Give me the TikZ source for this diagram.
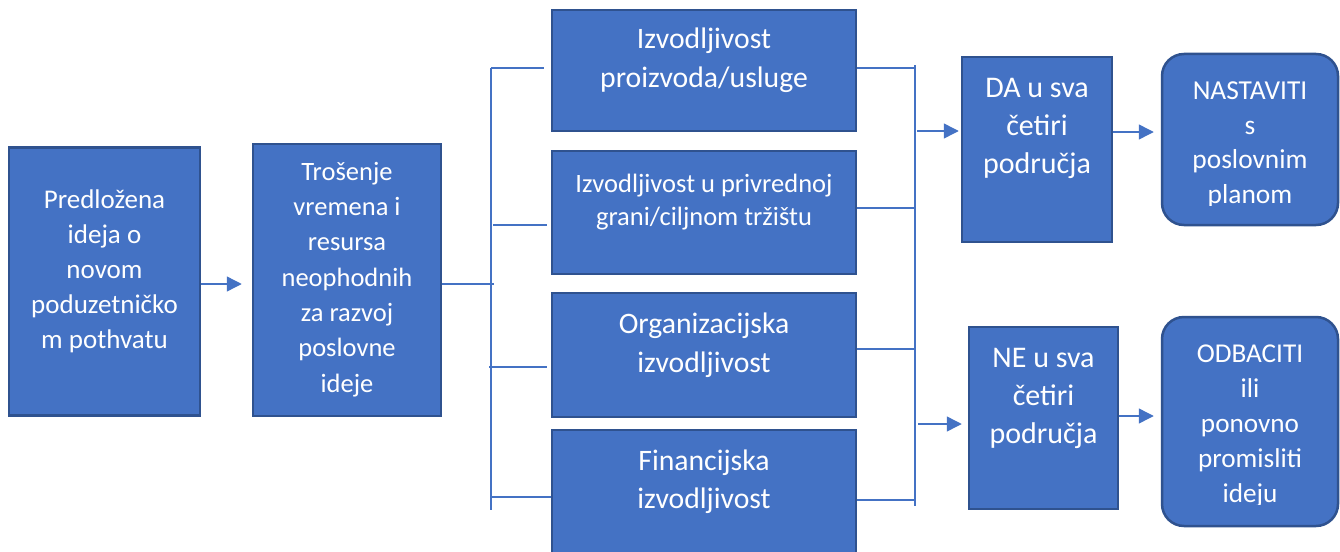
\documentclass[tikz,border=0pt]{standalone}
\usepackage{fontspec}
\setmainfont{Carlito}
\usetikzlibrary{arrows.meta}
\definecolor{boxblue}{HTML}{4472C4}
\definecolor{boxedge}{HTML}{2F528F}
\newcommand\boxfont[2]{\fontsize{#1}{#2}\selectfont}

\begin{document}
\begin{tikzpicture}[x=1pt,y=-1pt,
  box/.style={draw=boxedge,fill=boxblue,line width=2.5pt,inner sep=0pt},
  roundbox/.style={box,rounded corners=22pt},
  txt/.style={text=white,align=center,inner sep=0pt,anchor=base},
  link/.style={draw=boxblue,line width=1.4pt},
  arr/.style={link,-{Triangle[length=15pt,width=15pt]}}]
\useasboundingbox (0,0) rectangle (1340,551);

% left part (text placed by its last baseline)
\node[box,minimum width=191pt,minimum height=268pt] (ideja) at (104.5,281.5) {};
\node[txt,font=\boxfont{27}{35}] (ideja-t) at (104.5,348)
  {Predložena\\ideja o\\novom\\poduzetničko\\m pothvatu};
\node[box,minimum width=188pt,minimum height=272pt] (trosenje) at (347,280) {};
\node[txt,font=\boxfont{26.5}{35.3}] (trosenje-t) at (347,392)
  {Trošenje\\vremena i\\resursa\\neophodnih\\za razvoj\\poslovne\\ideje};

% the four areas
\node[box,minimum width=304pt,minimum height=121pt] (proizvod) at (704,70.5) {};
\node[txt,font=\boxfont{29.7}{39}] (proizvod-t) at (704,87)
  {Izvodljivost\\proizvoda/usluge};
\node[box,minimum width=304pt,minimum height=123pt] (trziste) at (704,212.5) {};
\node[txt,font=\boxfont{26.5}{33}] (trziste-t) at (704,225)
  {Izvodljivost u privrednoj\\grani/ciljnom tržištu};
\node[box,minimum width=304pt,minimum height=124pt] (organiz) at (704,355) {};
\node[txt,font=\boxfont{29.7}{39}] (organiz-t) at (704,372)
  {Organizacijska\\izvodljivost};
\node[box,minimum width=304pt,minimum height=123pt] (financ) at (704,491.5) {};
\node[txt,font=\boxfont{29.7}{38}] (financ-t) at (704,508)
  {Financijska\\izvodljivost};

% outcomes
\node[box,minimum width=150pt,minimum height=185pt] (da) at (1037,149.5) {};
\node[txt,font=\boxfont{30}{38}] (da-t) at (1037,173)
  {DA u sva\\četiri\\područja};
\node[box,minimum width=149pt,minimum height=182pt] (ne) at (1043.5,418) {};
\node[txt,font=\boxfont{30}{38}] (ne-t) at (1043.5,443)
  {NE u sva\\četiri\\područja};

\node[roundbox,minimum width=176pt,minimum height=171pt] (nastaviti) at (1250,139.5) {};
\begin{scope}
\clip (1162,54) rectangle (1338,205);
\node[txt,font=\boxfont{27.4}{34.5}] (nastaviti-t) at (1250,203)
  {NASTAVITI\\s\\poslovnim\\planom};
\end{scope}
\node[roundbox,minimum width=176pt,minimum height=209pt] (odbaciti) at (1250,421.5) {};
\begin{scope}
\clip (1162,317) rectangle (1338,504);
\node[txt,font=\boxfont{27.2}{35}] (odbaciti-t) at (1250,502)
  {ODBACITI\\ili\\ponovno\\promisliti\\ideju};
\end{scope}

% left bracket
\coordinate (lgore) at (491,68);
\coordinate (ldolje) at (491,510);
\coordinate (l1) at (491,68);
\coordinate (l2) at (493,225);
\coordinate (l3) at (489,367);
\coordinate (l4) at (492,497);
\coordinate (lsred) at (494,284);

\draw[arr,shorten >=10pt] (ideja.east |- lsred) -- (trosenje.west |- lsred);
\draw[link] (trosenje.east |- lsred) -- (lsred);
\draw[link] (lgore) -- (ldolje);
\draw[link] (l1) -- ([xshift=-7pt]proizvod.west |- l1);
\draw[link] (l2) -- ([xshift=-4pt]trziste.west |- l2);
\draw[link] (l3) -- ([xshift=-4pt]organiz.west |- l3);
\draw[link] (l4) -- (financ.west |- l4);

% right bracket
\coordinate (dgore) at (915,65);
\coordinate (ddolje) at (915,506);
\coordinate (d1) at (915,68);
\coordinate (d2) at (915,208);
\coordinate (d3) at (915,349);
\coordinate (d4) at (915,500);
\coordinate (dda) at (917,131);
\coordinate (dne) at (918,424);

\draw[link] (dgore) -- (ddolje);
\draw[link] (proizvod.east |- d1) -- (d1);
\draw[link] (trziste.east |- d2) -- (d2);
\draw[link] (organiz.east |- d3) -- (d3);
\draw[link] (financ.east |- d4) -- (d4);
\draw[arr,shorten >=2pt] (dda) -- (da.west |- dda);
\draw[arr,shorten >=6pt] (dne) -- (ne.west |- dne);

\draw[arr,shorten >=7pt] (da.east |- 0,132) -- (nastaviti.west |- 0,132);
\draw[arr,shorten >=7pt] (ne.east |- 0,416) -- (odbaciti.west |- 0,416);
\end{tikzpicture}
\end{document}
